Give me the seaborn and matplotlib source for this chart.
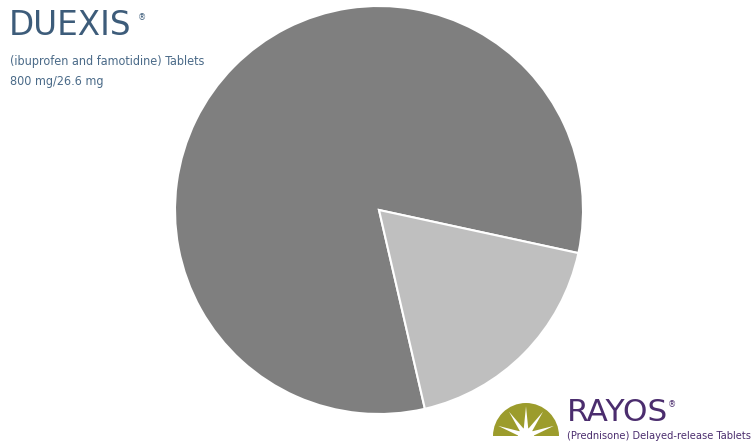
import matplotlib
matplotlib.use("Agg")
import matplotlib.pyplot as plt
import seaborn as sns
import numpy as np
from matplotlib.patches import Wedge, Polygon

sns.set_theme(style="white")
plt.rcParams['font.family'] = ['DejaVu Sans']

# Data
products = ["DUEXIS", "RAYOS"]
shares = [82, 18]
colors = ["#7f7f7f", "#bfbfbf"]

W, H = 755, 443
fig = plt.figure(figsize=(W / 100, H / 100), dpi=100)
fig.patch.set_facecolor("white")

cx, cy, r = 379, 210, 204
ax = fig.add_axes([(cx - r) / W, (H - cy - r) / H, 2 * r / W, 2 * r / H])
ax.pie(shares, colors=colors, startangle=-12.2, counterclock=True,
       wedgeprops=dict(edgecolor="white", linewidth=1.5), radius=1)
ax.set_xlim(-1, 1)
ax.set_ylim(-1, 1)
ax.set_aspect("equal")
ax.axis("off")

# DUEXIS logo text
fig.text(9 / W, 1 - 35 / H, "DUEXIS", fontsize=23.5, color="#3d5c7a",
         family=["DejaVu Sans"])
fig.text(138 / W, 1 - 20 / H, "®", fontsize=6, color="#3d5c7a")
fig.text(10 / W, 1 - 65 / H, "(ibuprofen and famotidine) Tablets", fontsize=9,
         color="#4a6a88", family=["DejaVu Sans"], fontstretch="condensed")
fig.text(10 / W, 1 - 85 / H, "800 mg/26.6 mg", fontsize=9,
         color="#4a6a88", family=["DejaVu Sans"], fontstretch="condensed")

# RAYOS logo
lax = fig.add_axes([0, 0, 1, 1], zorder=-1)
lax.set_xlim(0, W)
lax.set_ylim(H, 0)
lax.axis("off")
sx, sy, sr = 526, 436, 33
lax.add_patch(Wedge((sx, sy), sr, 180, 360, color="#9c9c2c", lw=0))
for ang in np.linspace(200, 340, 5):
    a = np.deg2rad(ang)
    tip = (sx + 0.9 * sr * np.cos(a), sy + 0.9 * sr * np.sin(a))
    pa = np.deg2rad(ang + 90)
    w = 3.0
    base1 = (sx + w * np.cos(pa), sy + w * np.sin(pa))
    base2 = (sx - w * np.cos(pa), sy - w * np.sin(pa))
    lax.add_patch(Polygon([base1, tip, base2], color="white", lw=0))
lax.add_patch(Wedge((sx, sy), 8, 180, 360, color="white", lw=0))
fig.text(567 / W, 1 - 421 / H, "RAYOS", fontsize=22.5, color="#4b2d6e",
         family=["DejaVu Sans"])
fig.text(668 / W, 1 - 407 / H, "®", fontsize=6, color="#4b2d6e")
fig.text(567 / W, 1 - 439 / H, "(Prednisone) Delayed-release Tablets", fontsize=7.9,
         color="#4b2d6e", family=["DejaVu Sans"], fontstretch="condensed")

fig.savefig("out.png", dpi=100, facecolor="white")
